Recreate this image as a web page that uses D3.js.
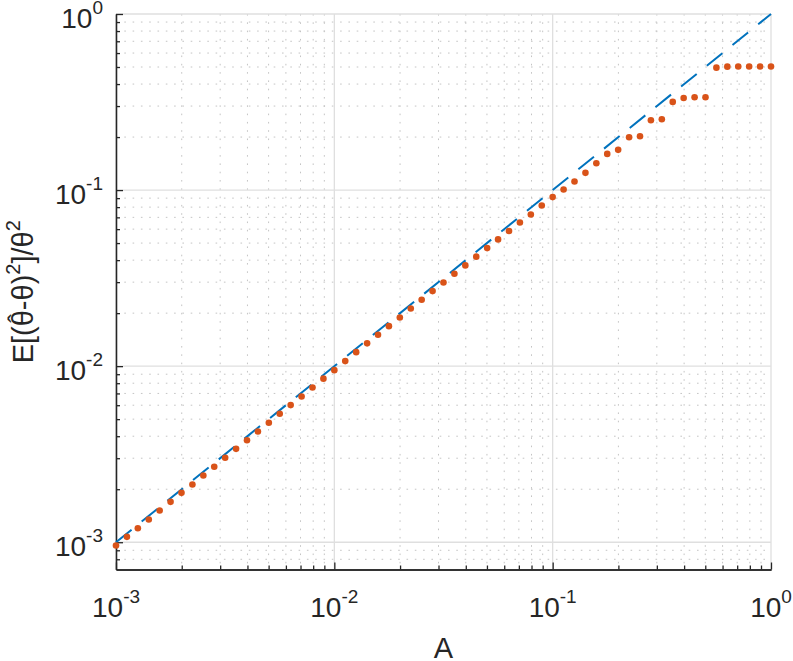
<!DOCTYPE html>
<html>
<head>
<meta charset="utf-8">
<script src="https://cdn.jsdelivr.net/npm/d3@7"></script>
<style>
body{margin:0;background:#fff}
text{font-family:"Liberation Sans",Arial,Helvetica,sans-serif;fill:#262626}
</style>
</head>
<body>
<div id="chart"></div>
<script>
// values
const aValues = [
0.001, 0.001122, 0.001259, 0.001413, 0.001585, 0.001778, 0.001995, 0.002239, 0.002512, 0.002818,
0.003162, 0.003548, 0.003981, 0.004467, 0.005012, 0.005623, 0.006310, 0.007079, 0.007943, 0.008913,
0.01, 0.01122, 0.01259, 0.01413, 0.01585, 0.01778, 0.01995, 0.02239, 0.02512, 0.02818,
0.03162, 0.03548, 0.03981, 0.04467, 0.05012, 0.05623, 0.06310, 0.07079, 0.07943, 0.08913,
0.1, 0.1122, 0.1259, 0.1413, 0.1585, 0.1778, 0.1995, 0.2239, 0.2512, 0.2818,
0.3162, 0.3548, 0.3981, 0.4467, 0.5012, 0.5623, 0.6310, 0.7079, 0.7943, 0.8913, 1]
const mseValues = [
0.000958, 0.001073, 0.001201, 0.001347, 0.001514, 0.001696, 0.001907, 0.002127, 0.002394, 0.002683,
0.003017, 0.003392, 0.003798, 0.004257, 0.004771, 0.005364, 0.006007, 0.006725, 0.007570, 0.008494,
0.00949, 0.01068, 0.01201, 0.01347, 0.01509, 0.01687, 0.01891, 0.02127, 0.02384, 0.02669,
0.02988, 0.03349, 0.03734, 0.04186, 0.04681, 0.05246, 0.0585, 0.0654, 0.0726, 0.0817,
0.0912, 0.1007, 0.1118, 0.1253, 0.1421, 0.1605, 0.1692, 0.1997, 0.2023, 0.2493,
0.2526, 0.3168, 0.3337, 0.3367, 0.3367, 0.4958, 0.5023, 0.503, 0.503, 0.503, 0.503]
const refA = [0.001, 1]
const refMse = [0.001, 1]
const xTicks = [0.001, 0.01, 0.1, 1]
const xTickExp = ["-3", "-2", "-1", "0"]
const yTicks = [0.001, 0.01, 0.1, 1]
const yTickExp = ["-3", "-2", "-1", "0"]

const width = 793
const height = 661
const xDomain = [0.001, 1]
const yDomain = [0.0007, 1]
const plot = { left: 116, right: 771, top: 14, bottom: 569.5 }
const ink = '#262626'

const svg = d3.select('#chart').append('svg')
  .attr('width', width).attr('height', height)
  .attr('viewBox', `0 0 ${width} ${height}`)

const x = d3.scaleLog().domain(xDomain).range([plot.left, plot.right])
const y = d3.scaleLog().domain(yDomain).range([plot.bottom, plot.top])

const isMajor = v => Math.abs(Math.log10(v) - Math.round(Math.log10(v))) < 1e-9
const xMinor = x.ticks().filter(v => !isMajor(v))
const yMinor = y.ticks().filter(v => !isMajor(v) && v > yDomain[0] * 1.01)

// grid
const grid = svg.append('g')
grid.selectAll('.xminor').data(xMinor).enter().append('line')
  .attr('x1', d => x(d)).attr('x2', d => x(d))
  .attr('y1', plot.top).attr('y2', plot.bottom)
  .attr('stroke', '#c4c4c4').attr('stroke-width', 1).attr('stroke-dasharray', '1.6,6.7')
grid.selectAll('.yminor').data(yMinor).enter().append('line')
  .attr('y1', d => y(d)).attr('y2', d => y(d))
  .attr('x1', plot.left).attr('x2', plot.right)
  .attr('stroke', '#c4c4c4').attr('stroke-width', 1).attr('stroke-dasharray', '1.6,6.7')
grid.selectAll('.xmajor').data(xTicks).enter().append('line')
  .attr('x1', d => x(d)).attr('x2', d => x(d))
  .attr('y1', plot.top).attr('y2', plot.bottom)
  .attr('stroke', '#dfdfdf').attr('stroke-width', 1.3)
grid.selectAll('.ymajor').data(yTicks).enter().append('line')
  .attr('y1', d => y(d)).attr('y2', d => y(d))
  .attr('x1', plot.left).attr('x2', plot.right)
  .attr('stroke', '#dfdfdf').attr('stroke-width', 1.3)

// axes (ticks point inward)
const styleAxis = g => {
  g.selectAll('path, line').attr('stroke', ink).attr('stroke-width', 1.3)
  g.selectAll('text').remove()
}
svg.append('g').attr('transform', `translate(0,${plot.bottom})`)
  .call(d3.axisBottom(x).tickValues(xMinor).tickSize(-4).tickSizeOuter(0).tickFormat(''))
  .call(styleAxis)
svg.append('g').attr('transform', `translate(0,${plot.bottom})`)
  .call(d3.axisBottom(x).tickValues(xTicks).tickSize(-7).tickSizeOuter(0).tickFormat(''))
  .call(styleAxis)
svg.append('g').attr('transform', `translate(${plot.left},0)`)
  .call(d3.axisLeft(y).tickValues(yMinor).tickSize(-4).tickSizeOuter(0).tickFormat(''))
  .call(styleAxis)
svg.append('g').attr('transform', `translate(${plot.left},0)`)
  .call(d3.axisLeft(y).tickValues(yTicks).tickSize(-7).tickSizeOuter(0).tickFormat(''))
  .call(styleAxis)

// tick labels 10^k
xTicks.forEach((v, i) => {
  const t = svg.append('text').attr('x', x(v)).attr('y', 616.7)
    .attr('text-anchor', 'middle').attr('font-size', 28)
  t.append('tspan').text('10')
  t.append('tspan').attr('dy', -14).attr('font-size', 19).text(xTickExp[i])
})
yTicks.forEach((v, i) => {
  const t = svg.append('text').attr('x', 103).attr('y', y(v) + 14)
    .attr('text-anchor', 'end').attr('font-size', 28)
  t.append('tspan').text('10')
  t.append('tspan').attr('dy', -14).attr('font-size', 19).text(yTickExp[i])
})

// axis titles
svg.append('text').attr('x', (plot.left + plot.right) / 2).attr('y', 658)
  .attr('text-anchor', 'middle').attr('font-size', 29).text('A')

// y title: E[(theta-hat - theta)^2]/theta^2, hat placed over the first theta
const yl = svg.append('text')
  .attr('transform', `translate(33,${(plot.top + plot.bottom) / 2}) rotate(-90)`)
  .attr('text-anchor', 'middle').attr('font-size', 29)
yl.append('tspan').text('E[(\u03B8')
yl.append('tspan').attr('dx', -12.6).attr('dy', -7).attr('font-size', 26).text('\u02C6')
yl.append('tspan').attr('dx', 3.9).attr('dy', 7).text('-\u03B8)')
yl.append('tspan').attr('dy', -13).attr('font-size', 20).text('2')
yl.append('tspan').attr('dy', 13).text(']/\u03B8')
yl.append('tspan').attr('dy', -13).attr('font-size', 20).text('2')

// reference line A
const refLine = d3.line().x((d, i) => x(refA[i])).y(d => y(d))
svg.append('path').datum(refMse)
  .attr('d', refLine)
  .attr('fill', 'none').attr('stroke', '#0072BD').attr('stroke-width', 2)
  .attr('stroke-dasharray', '20,13')

// simulated MSE dots
svg.append('g').selectAll('circle').data(mseValues).enter().append('circle')
  .attr('cx', (d, i) => x(aValues[i]))
  .attr('cy', d => y(d))
  .attr('r', 3.3)
  .attr('fill', '#D95319')
</script>
</body>
</html>
